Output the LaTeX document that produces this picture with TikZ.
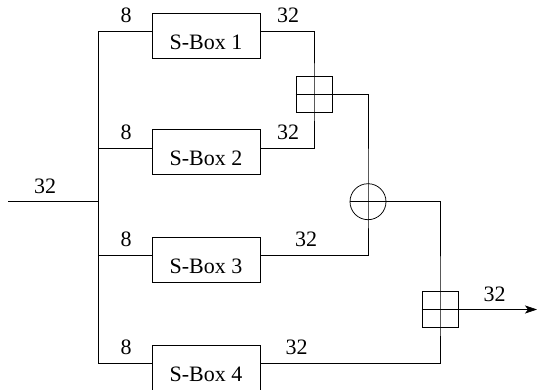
\documentclass[tikz,border=0pt]{standalone}
\usepackage{fontspec}
\setmainfont{Liberation Serif}
\usetikzlibrary{arrows.meta}
\begin{document}
\begin{tikzpicture}[x=1pt,y=-1pt,
  wire/.style={line width=0.75pt},
  sbox/.style={draw, line width=0.75pt, minimum width=108pt, minimum height=45pt,
    inner sep=0pt, text height=27pt, text depth=0pt, font=\fontsize{22}{26}\selectfont},
  addbox/.style={draw, line width=0.75pt, minimum width=36pt, minimum height=36pt, inner sep=0pt},
  xorcirc/.style={draw, circle, line width=0.75pt, minimum size=36pt, inner sep=0pt},
  lbl/.style={inner sep=0pt, text height=14.4pt, text depth=0pt, font=\fontsize{22}{26}\selectfont}]
\useasboundingbox (0,0) rectangle (537,390);

% S-boxes
\node[sbox] (s1) at (206,35.8) {S-Box 1};
\node[sbox] (s2) at (206,152.3) {S-Box 2};
\node[sbox] (s3) at (206,260.0) {S-Box 3};
\node[sbox] (s4) at (206,368.0) {S-Box 4};

% wire ports on the boxes
\foreach \i in {1,2,3,4} {
  \coordinate (s\i w) at ([yshift=4.2pt]s\i.west);
  \coordinate (s\i e) at ([yshift=4.2pt]s\i.east);
}

% combining operators
\node[addbox] (p1) at (314,94.2) {};
\node[xorcirc] (x1) at (368,201.7) {};
\node[addbox] (p2) at (440,309.5) {};

% input bus feeding the four S-boxes
\coordinate (in) at (8,201.7);
\coordinate (bt) at (98,31.6);
\coordinate (bb) at (98,363.8);
\draw[wire] (in) -- (in -| bt);
\draw[wire] (s1w) -- (bt) -- (bb) -- (s4w);
\draw[wire] (s2w) -- (s2w -| bt);
\draw[wire] (s3w) -- (s3w -| bt);

% output combination
\draw[wire] (s1e) -| (p1.center) |- (s2e);
\draw[wire] (p1.west) -| (x1.center) |- (s3e);
\draw[wire] (x1.west) -| (p2.center) |- (s4e);
\coordinate (out) at (537,309.5);
\draw[wire, -{Stealth[length=12pt,width=8pt,inset=3pt]}] (p2.west) -- (out);

% bit widths
\node[lbl] (w1) at (126,15.5) {8};
\node[lbl] (w2) at (126,132) {8};
\node[lbl] (w3) at (126,239.5) {8};
\node[lbl] (w4) at (126,347.2) {8};
\node[lbl] (o1) at (288,15.5) {32};
\node[lbl] (o2) at (288,132) {32};
\node[lbl] (o3) at (306,239.5) {32};
\node[lbl] (o4) at (296.7,347.2) {32};
\node[lbl] (wi) at (45,186.2) {32};
\node[lbl] (wo) at (494.5,293.8) {32};
\end{tikzpicture}
\end{document}
